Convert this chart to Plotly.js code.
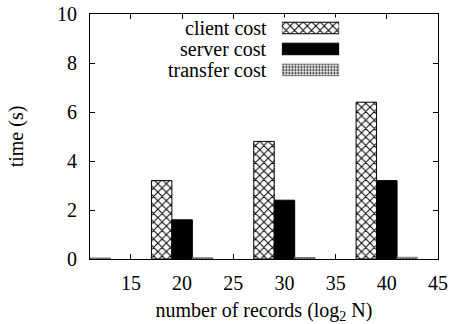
<!DOCTYPE html>
<html><head>
<script src="https://cdn.plot.ly/plotly-3.0.1.min.js"></script>
<style>body{margin:0;background:#fff}</style>
</head><body>
<div id="chart" style="width:451px;height:324px"></div>
<script>
// ---- data ----
const groups = [10, 20, 30, 40];
const seriesNames = ['client cost', 'server cost', 'transfer cost'];
const clientCost = [0, 3.2, 4.8, 6.4];
const serverCost = [0, 1.6, 2.4, 3.2];
const transferCost = [0.04, 0.05, 0.06, 0.07];
const xTicks = [15, 20, 25, 30, 35, 40, 45];
const yTicks = [0, 2, 4, 6, 8, 10];

// ---- styles ----
const font = () => ({family: 'Liberation Serif', size: 20, color: '#000'});
const markers = () => [
  {color: '#fff', line: {color: '#000', width: 1},
   pattern: {shape: 'x', size: 6, solidity: 0.3, fgcolor: '#000', bgcolor: '#fff', fillmode: 'replace'}},
  {color: '#000', line: {color: '#000', width: 1}},
  {color: '#fff', line: {color: '#777', width: 1},
   pattern: {shape: '.', size: 3, solidity: 0.4, fgcolor: '#000', bgcolor: '#fff', fillmode: 'replace'}}
];
const offsets = [-3, -1, 1];
const allValues = [clientCost, serverCost, transferCost];

const traces = allValues.map((vals, i) => ({
  type: 'bar', x: groups, y: vals, name: seriesNames[i],
  width: 2, offset: offsets[i], marker: markers()[i], showlegend: false,
  hoverinfo: 'skip'
}));

// legend swatches drawn as horizontal bars on a small helper axis
seriesNames.forEach((n, i) => {
  traces.push({
    type: 'bar', orientation: 'h', x: [1], y: [i], xaxis: 'x2', yaxis: 'y2',
    width: 0.55, marker: markers()[i], showlegend: false, hoverinfo: 'skip'
  });
});

const annotations = seriesNames.map((n, i) => ({
  text: n, xref: 'paper', yref: 'y2', x: 0.513, y: i,
  xanchor: 'right', yanchor: 'middle', showarrow: false, font: font()
}));

const layout = {
  width: 451, height: 324,
  margin: {l: 90, r: 13, t: 14, b: 65},
  paper_bgcolor: '#fff', plot_bgcolor: '#fff',
  font: font(),
  barmode: 'overlay',
  xaxis: {
    range: [11, 45], tickvals: xTicks, ticktext: xTicks.map(String),
    ticks: 'inside', ticklen: 5, tickcolor: '#000', mirror: 'allticks',
    showline: true, linecolor: '#000', linewidth: 1, showgrid: false, zeroline: false,
    tickfont: font(), ticklabelstandoff: 6,
    title: {text: 'number of records (log<sub>2</sub> N)', font: font(), standoff: 14}
  },
  yaxis: {
    range: [0, 10], tickvals: yTicks, ticktext: yTicks.map(String),
    ticks: 'inside', ticklen: 5, tickcolor: '#000', mirror: 'allticks',
    showline: true, linecolor: '#000', linewidth: 1, showgrid: false, zeroline: false,
    tickfont: font(), ticklabelstandoff: 8,
    title: {text: 'time (s)', font: font(), standoff: 28}
  },
  xaxis2: {domain: [0.5513, 0.7161], range: [0, 1], visible: false, anchor: 'y2', fixedrange: true},
  yaxis2: {domain: [0.7289, 0.9857], range: [2.5, -0.5], visible: false, anchor: 'x2', fixedrange: true},
  annotations: annotations
};

Plotly.newPlot('chart', traces, layout, {staticPlot: true, displayModeBar: false});
</script>
</body></html>
